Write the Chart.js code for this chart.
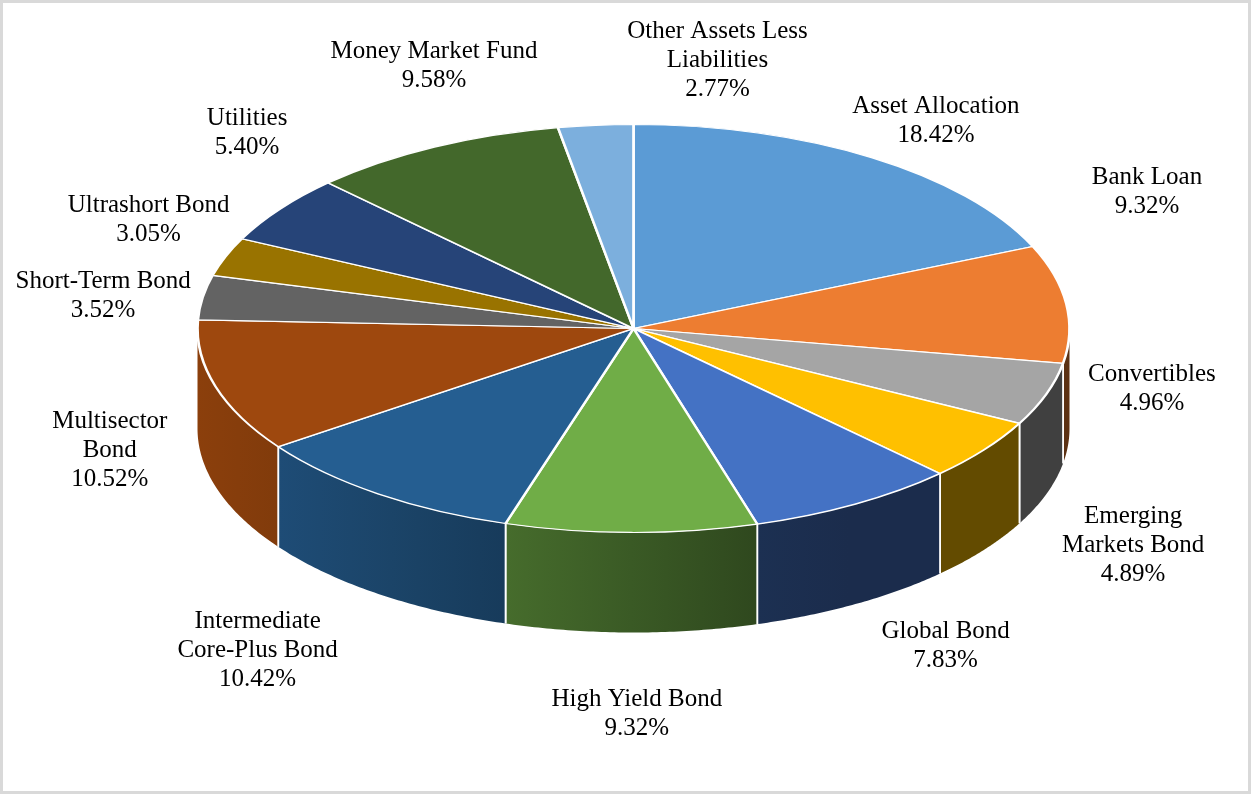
<!DOCTYPE html>
<html>
<head>
<meta charset="utf-8">
<script src="https://cdn.jsdelivr.net/npm/chart.js@4.4.1/dist/chart.umd.min.js"></script>
<style>
  html, body { margin: 0; padding: 0; background: #fff; }
  #wrap { width: 1251px; height: 794px; position: relative; }
</style>
</head>
<body>
<div id="wrap"><canvas id="pie"></canvas></div>
<script>
const sectors = ['Asset Allocation', 'Bank Loan', 'Convertibles', 'Emerging Markets Bond', 'Global Bond',
  'High Yield Bond', 'Intermediate Core-Plus Bond', 'Multisector Bond', 'Short-Term Bond',
  'Ultrashort Bond', 'Utilities', 'Money Market Fund', 'Other Assets Less Liabilities'];
const weights = [18.42, 9.32, 4.96, 4.89, 7.83, 9.32, 10.42, 10.52, 3.52, 3.05, 5.40, 9.58, 2.77];
// line breaks the way the labels wrap in the original
const labelLines = [['Asset Allocation'], ['Bank Loan'], ['Convertibles'], ['Emerging', 'Markets Bond'],
  ['Global Bond'], ['High Yield Bond'], ['Intermediate', 'Core-Plus Bond'], ['Multisector', 'Bond'],
  ['Short-Term Bond'], ['Ultrashort Bond'], ['Utilities'], ['Money Market Fund'], ['Other Assets Less', 'Liabilities']];
const colors = ['#5B9BD5', '#ED7D31', '#A5A5A5', '#FFC000', '#4472C4', '#70AD47', '#255E91',
  '#9E480E', '#636363', '#997300', '#264478', '#43682B', '#7CAFDD'];

// look of the tilted pie
const RX = 436, RY = 204, DEPTH = 100;
const GAP = 15, LINE_H = 29;
const FONT = '25px "Liberation Serif", "Times New Roman", serif';
// small hand moves so labels sit where Excel put them
const labelNudge = [[10, 0], [11, -107], [31, -52], [80, 1], [50, 18], [6, 37], [-65, 28],
  [-36, 19], [2, 5], [13, -21], [12, -50], [54, -42], [131, -7]];

function shade(hex, f) {
  const n = parseInt(hex.slice(1), 16);
  const r = Math.round(((n >> 16) & 255) * f);
  const g = Math.round(((n >> 8) & 255) * f);
  const b = Math.round((n & 255) * f);
  return `rgb(${r},${g},${b})`;
}

const tilt = {
  id: 'tilt',
  beforeDatasetsDraw(chart) {
    const ctx = chart.ctx;
    const arcs = chart.getDatasetMeta(0).data;
    const { x, y, outerRadius: r } = arcs[0];
    const sx = RX / r, sy = RY / r;
    const left = x - RX;
    // light comes from the left, right side of the rim falls into shadow
    const light = px => Math.max(0.39, 0.88 - 0.72 * (px - left) / (2 * RX));
    const pt = (a, h) => [x + RX * Math.cos(a), y + RY * Math.sin(a) + h];

    // side walls for the front half
    arcs.forEach((arc, i) => {
      const a1 = Math.max(arc.startAngle, 0);
      const a2 = Math.min(arc.endAngle, Math.PI);
      if (a2 <= a1) return;
      const steps = 60;
      ctx.beginPath();
      for (let k = 0; k <= steps; k++) {
        const p = pt(a1 + (a2 - a1) * k / steps, 0);
        k ? ctx.lineTo(p[0], p[1]) : ctx.moveTo(p[0], p[1]);
      }
      for (let k = steps; k >= 0; k--) {
        const p = pt(a1 + (a2 - a1) * k / steps, DEPTH);
        ctx.lineTo(p[0], p[1]);
      }
      ctx.closePath();
      const xa = pt(a1, 0)[0], xb = pt(a2, 0)[0];
      const x0 = Math.min(xa, xb), x1 = Math.max(xa, xb);
      const grad = ctx.createLinearGradient(x0, 0, x1, 0);
      grad.addColorStop(0, shade(colors[i], light(x0)));
      grad.addColorStop(0.5, shade(colors[i], light((x0 + x1) / 2)));
      grad.addColorStop(1, shade(colors[i], light(x1)));
      ctx.fillStyle = grad;
      ctx.fill();

      ctx.strokeStyle = '#fff';
      ctx.lineWidth = 1.8;
      [[a1, arc.startAngle], [a2, arc.endAngle]].forEach(([a, real]) => {
        if (a !== real) return;
        const p = pt(a, 0), q = pt(a, DEPTH);
        ctx.beginPath();
        ctx.moveTo(p[0], p[1]);
        ctx.lineTo(q[0], q[1]);
        ctx.stroke();
      });
    });

    // squash the library's own pie into the top face
    ctx.save();
    ctx.translate(x, y);
    ctx.scale(sx, sy);
    ctx.translate(-x, -y);
  },
  afterDatasetsDraw(chart) {
    const ctx = chart.ctx;
    ctx.restore();

    const arcs = chart.getDatasetMeta(0).data;
    const total = weights.reduce((s, v) => s + v, 0);
    ctx.save();
    ctx.font = FONT;
    ctx.fillStyle = '#000';
    ctx.textAlign = 'center';
    ctx.textBaseline = 'middle';
    arcs.forEach((arc, i) => {
      const m = (arc.startAngle + arc.endAngle) / 2;
      const c = Math.cos(m), s = Math.sin(m);
      const lines = labelLines[i].concat([(weights[i] / total * 100).toFixed(2) + '%']);
      const w = Math.max(...lines.map(t => ctx.measureText(t).width));
      const h = lines.length * LINE_H;
      const lx = arc.x + (RX + GAP) * c + w / 2 * c + labelNudge[i][0];
      const ly = arc.y + (RY + GAP) * s + h / 2 * s + (s > 0 ? DEPTH * s : 0) + labelNudge[i][1];
      lines.forEach((t, k) => ctx.fillText(t, lx, ly - h / 2 + LINE_H * (k + 0.5)));
    });
    ctx.restore();
  },
  afterDraw(chart) {
    const ctx = chart.ctx;
    ctx.save();
    ctx.strokeStyle = '#d9d9d9';
    ctx.lineWidth = 3;
    ctx.strokeRect(1.5, 1.5, chart.width - 3, chart.height - 3);
    ctx.restore();
  }
};

new Chart(document.getElementById('pie'), {
  type: 'pie',
  data: {
    labels: sectors,
    datasets: [{
      data: weights,
      backgroundColor: colors,
      borderColor: '#fff',
      borderWidth: 2
    }]
  },
  options: {
    responsive: true,
    maintainAspectRatio: false,
    animation: false,
    events: [],
    layout: { padding: { left: 16, right: 0, top: 0, bottom: 137 } },
    plugins: {
      legend: { display: false },
      tooltip: { enabled: false }
    }
  },
  plugins: [tilt]
});
</script>
</body>
</html>
